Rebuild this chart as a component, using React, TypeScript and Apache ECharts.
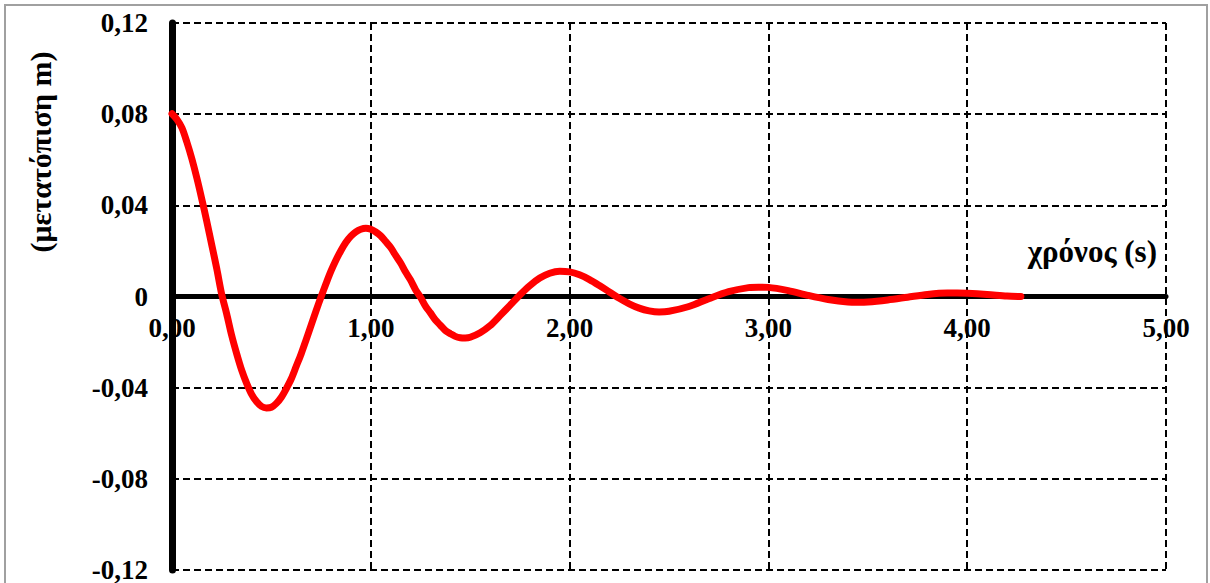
import React, { useEffect, useRef } from "react";
import * as echarts from "echarts";

const timeS = [
  0, 0.025, 0.05, 0.075, 0.1, 0.125, 0.15, 0.175, 0.2, 0.225, 0.25, 0.275, 0.3, 0.325,
  0.35, 0.375, 0.4, 0.425, 0.45, 0.475, 0.5, 0.525, 0.55, 0.575, 0.6, 0.625, 0.65, 0.675,
  0.7, 0.725, 0.75, 0.775, 0.8, 0.825, 0.85, 0.875, 0.9, 0.925, 0.95, 0.975, 1.0, 1.025,
  1.05, 1.075, 1.1, 1.125, 1.15, 1.175, 1.2, 1.225, 1.25, 1.275, 1.3, 1.325, 1.35, 1.375,
  1.4, 1.425, 1.45, 1.475, 1.5, 1.55, 1.6, 1.65, 1.7, 1.75, 1.8, 1.85, 1.9, 1.95, 2.0,
  2.05, 2.1, 2.15, 2.2, 2.25, 2.3, 2.35, 2.4, 2.45, 2.5, 2.6, 2.7, 2.8, 2.9, 2.95, 3.0,
  3.1, 3.2, 3.3, 3.4, 3.45, 3.5, 3.6, 3.7, 3.8, 3.9, 3.95, 4.0, 4.1, 4.2, 4.27,
];
const displacement = [
  0.0802, 0.0777, 0.074, 0.0677, 0.0604, 0.052, 0.0427, 0.0329, 0.0226, 0.0123, 0.001,
  -0.0076, -0.017, -0.025, -0.0322, -0.038, -0.0428, -0.0461, -0.0482, -0.0489, -0.0486,
  -0.0469, -0.0442, -0.0404, -0.0361, -0.0306, -0.0251, -0.0189, -0.0126, -0.0062,
  -0.0001, 0.0057, 0.0112, 0.016, 0.0202, 0.0238, 0.0265, 0.0284, 0.0295, 0.0299, 0.0295,
  0.0283, 0.0266, 0.0241, 0.0215, 0.018, 0.0147, 0.0107, 0.0072, 0.003, -0.0003, -0.0042,
  -0.0072, -0.0103, -0.0126, -0.0149, -0.0163, -0.0175, -0.0181, -0.0182, -0.0179,
  -0.0159, -0.0128, -0.0084, -0.0039, 0.0007, 0.0048, 0.0081, 0.0102, 0.0111, 0.0108,
  0.0095, 0.0074, 0.0048, 0.002, -0.0008, -0.0032, -0.0051, -0.0063, -0.0068, -0.0065,
  -0.0044, -0.001, 0.0021, 0.0039, 0.0041, 0.004, 0.0026, 0.0005, -0.0013, -0.0024,
  -0.0025, -0.0024, -0.0015, -0.0003, 0.0009, 0.0015, 0.0015, 0.0014, 0.0009, 0.0002, 0.0,
];

const xAxisTitle = "χρόνος (s)";
const yAxisTitle = "(μετατόπιση m)";

const FONT = "'Liberation Serif', 'Times New Roman', serif";

function fmtY(v: number): string {
  if (Math.abs(v) < 1e-9) return "0";
  return v.toFixed(2).replace(".", ",");
}
function fmtX(v: number): string {
  return (Math.abs(v) < 1e-9 ? 0 : v).toFixed(2).replace(".", ",");
}

const GRID_TOP = 23;
const GRID_BOTTOM = 13;
const CHART_H = 583;

export default function App() {
  const ref = useRef<HTMLDivElement>(null);
  useEffect(() => {
    if (!ref.current) return;
    const chart = echarts.init(ref.current, null, { renderer: "svg" });
    const labelStyle = {
      fontFamily: FONT,
      fontWeight: "bold" as const,
      fontSize: 27,
      color: "#000",
    };
    const dashed = { color: "#000", width: 2, type: [7, 4] as number[] };
    const plotH = CHART_H - GRID_TOP - GRID_BOTTOM;
    const zeroOffset = -plotH / 2;
    chart.setOption({
      animation: false,
      backgroundColor: "#fff",
      grid: {
        left: 172,
        right: 44,
        top: GRID_TOP,
        bottom: GRID_BOTTOM,
        containLabel: false,
        outerBoundsMode: "none",
      },
      xAxis: {
        type: "value",
        min: 0,
        max: 5,
        interval: 1,
        position: "bottom",
        offset: zeroOffset,
        axisLine: { show: true, onZero: false, lineStyle: { color: "#000", width: 5 } },
        axisTick: { show: false },
        axisLabel: { ...labelStyle, margin: 18, formatter: (v: number) => fmtX(v) },
        splitLine: { show: true, lineStyle: dashed },
      },
      yAxis: {
        type: "value",
        min: -0.12,
        max: 0.12,
        interval: 0.04,
        axisLine: { show: true, onZero: false, lineStyle: { color: "#000", width: 7 } },
        axisTick: { show: false },
        axisLabel: { ...labelStyle, margin: 24, formatter: (v: number) => fmtY(v) },
        splitLine: { show: true, lineStyle: dashed },
      },
      series: [
        {
          type: "line",
          data: timeS.map((t, i) => [t, displacement[i]]),
          smooth: 0.3,
          showSymbol: false,
          symbol: "none",
          lineStyle: { color: "#ff0000", width: 7, cap: "round", join: "round" },
          z: 5,
        },
      ],
      graphic: [
        {
          type: "rect",
          shape: { x: 5, y: 5, width: 1202, height: 640 },
          style: { fill: "none", stroke: "#a0a0a0", lineWidth: 2 },
          silent: true,
        },
        {
          type: "text",
          x: 1157,
          y: 251,
          style: {
            text: xAxisTitle,
            font: `bold 31px ${FONT}`,
            fill: "#000",
            textAlign: "right",
            textVerticalAlign: "middle",
          },
        },
        {
          type: "text",
          x: 40,
          y: 152,
          rotation: Math.PI / 2,
          style: {
            text: yAxisTitle,
            font: `bold 30px ${FONT}`,
            fill: "#000",
            textAlign: "center",
            textVerticalAlign: "middle",
          },
        },
      ],
    });
    return () => chart.dispose();
  }, []);
  return (
    <div
      ref={ref}
      style={{ position: "fixed", left: 0, top: 0, width: 1210, height: CHART_H }}
    />
  );
}
